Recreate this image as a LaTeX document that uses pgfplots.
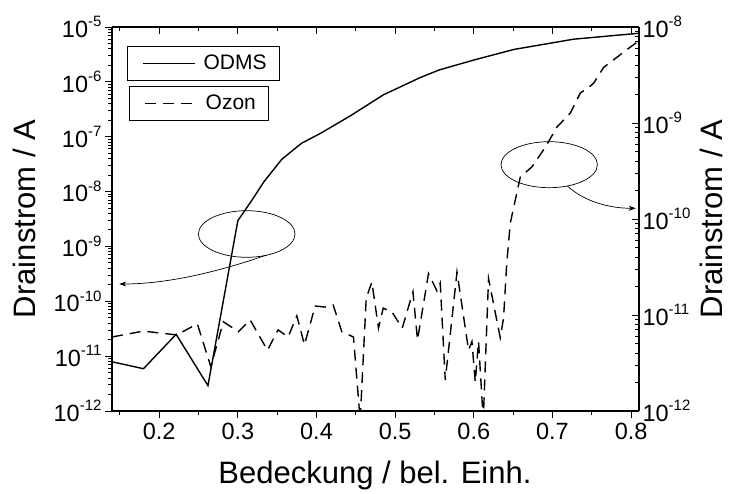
\documentclass[border=0pt]{standalone}
\usepackage{fontspec}
\setmainfont{Liberation Sans}
\usepackage{pgfplots}
\pgfplotsset{compat=1.18}
\usetikzlibrary{arrows.meta}
\newcommand{\sups}[1]{\raisebox{0.45em}{\fontsize{15}{15}\selectfont #1}}

\pgfplotsset{
  common/.style={
    width=527pt, height=384pt, scale only axis,
    at={(112pt,83pt)}, anchor=south west,
    xmin=0.14, xmax=0.81,
    xtick={0.2,0.3,0.4,0.5,0.6,0.7,0.8},
    minor xtick={0.15,0.25,0.35,0.45,0.55,0.65,0.75},
    major tick length=7pt, minor tick length=4pt,
    every tick/.style={black, line width=0.9pt},
    axis line style={line width=1.3pt},
    /pgf/number format/assume math mode=true,
    tick label style={font=\fontsize{23.5}{23.5}\selectfont},
    xticklabel style={yshift=-2pt},
    label style={font=\fontsize{31}{31}\selectfont},
    legend style={draw=black, line width=0.8pt, fill=white,
      font=\fontsize{21}{24}\selectfont, inner xsep=11pt, inner ysep=7pt,
      legend cell align=left},
    legend image code/.code={\path (-4pt,0pt) (58pt,0pt); \draw[#1] (0pt,0pt) -- (52pt,0pt);},
  }
}

\begin{document}
\begin{tikzpicture}
\path[use as bounding box] (0,0) rectangle (730pt,494pt);

% left axis: ODMS
\begin{axis}[common,
  ymode=log, ymin=1e-12, ymax=1e-5,
  axis x line*=bottom, axis y line*=left,
  tick align=outside,
  xticklabels={0.2,0.3,0.4,0.5,0.6,0.7,0.8},
  ytick={1e-12,1e-11,1e-10,1e-9,1e-8,1e-7,1e-6,1e-5},
  yticklabels={10\sups{-12},10\sups{-11},10\sups{-10},10\sups{-9},10\sups{-8},10\sups{-7},10\sups{-6},10\sups{-5}},
  minor ytick={2e-12,3e-12,4e-12,5e-12,6e-12,7e-12,8e-12,9e-12,
    2e-11,3e-11,4e-11,5e-11,6e-11,7e-11,8e-11,9e-11,
    2e-10,3e-10,4e-10,5e-10,6e-10,7e-10,8e-10,9e-10,
    2e-9,3e-9,4e-9,5e-9,6e-9,7e-9,8e-9,9e-9,
    2e-8,3e-8,4e-8,5e-8,6e-8,7e-8,8e-8,9e-8,
    2e-7,3e-7,4e-7,5e-7,6e-7,7e-7,8e-7,9e-7,
    2e-6,3e-6,4e-6,5e-6,6e-6,7e-6,8e-6,9e-6},
  xlabel={Bedeckung / bel. Einh.},
  ylabel={Drainstrom / A},
  xlabel style={at={(axis description cs:0.499,-0.169)}, anchor=center},
  ylabel style={at={(axis description cs:-0.167,0.5)}, anchor=center},
  legend style={at={(axis description cs:0.028,0.951)}, anchor=north west},
]
\addplot[black, line width=1.4pt] coordinates {
(0.140,7.9e-12) (0.180,5.9e-12) (0.2215,2.5e-11) (0.262,2.9e-12)
(0.300,2.95e-9) (0.318,7e-9) (0.333,1.5e-8) (0.356,3.9e-8)
(0.381,7.6e-8) (0.405,1.15e-7) (0.443,2.4e-7) (0.485,5.8e-7)
(0.532,1.2e-6) (0.556,1.65e-6) (0.600,2.5e-6) (0.651,3.9e-6)
(0.727,6e-6) (0.810,7.7e-6)
};
\addlegendentry{ODMS}
\end{axis}

% right axis: Ozon
\begin{axis}[common,
  ymode=log, ymin=1e-12, ymax=1e-8,
  axis x line*=top, axis y line*=right,
  tick align=inside,
  xticklabels={},
  ytick={1e-12,1e-11,1e-10,1e-9,1e-8},
  yticklabels={10\sups{-12},10\sups{-11},10\sups{-10},10\sups{-9},10\sups{-8}},
  minor ytick={2e-12,3e-12,4e-12,5e-12,6e-12,7e-12,8e-12,9e-12,
    2e-11,3e-11,4e-11,5e-11,6e-11,7e-11,8e-11,9e-11,
    2e-10,3e-10,4e-10,5e-10,6e-10,7e-10,8e-10,9e-10,
    2e-9,3e-9,4e-9,5e-9,6e-9,7e-9,8e-9,9e-9},
  ylabel={Drainstrom / A},
  ylabel style={at={(axis description cs:1.137,0.5)}, anchor=center, rotate=0},
  legend style={at={(axis description cs:0.032,0.847)}, anchor=north west},
]
\addplot[black, line width=1.4pt, dash pattern=on 11pt off 7pt] coordinates {
(0.140,5.9e-12) (0.1798,6.8e-12) (0.2223,6.2e-12) (0.2485,8.1e-12)
(0.2656,2.9e-12) (0.2816,8.5e-12) (0.3007,6.7e-12) (0.3156,8.9e-12)
(0.3376,4.3e-12) (0.3512,7.0e-12) (0.3639,5.9e-12) (0.3750,9.8e-12)
(0.3847,4.9e-12) (0.3983,1.24e-11) (0.4110,1.21e-11) (0.4212,1.27e-11)
(0.4322,6.7e-12) (0.4470,5.9e-12) (0.4555,8e-13) (0.4632,1.5e-11)
(0.4704,2.2e-11) (0.4788,7.3e-12) (0.4848,1.18e-11) (0.4962,1.07e-11)
(0.5090,7.3e-12) (0.5226,1.75e-11) (0.5284,5.5e-12) (0.5424,2.7e-11)
(0.5531,1.78e-11) (0.5573,2.15e-11) (0.5637,2.1e-12) (0.5786,2.8e-11)
(0.5933,4.3e-12) (0.5976,5.3e-12) (0.6018,2.0e-12) (0.6060,5.3e-12)
(0.6120,8e-13) (0.6187,2.4e-11) (0.6336,5.8e-12) (0.6378,9.3e-12)
(0.6419,3.5e-11) (0.6464,9.1e-11) (0.6591,2.74e-10) (0.6740,3.5e-10)
(0.6909,5.6e-10) (0.7058,9.1e-10) (0.7227,1.27e-9) (0.7354,2.05e-9)
(0.7482,2.43e-9) (0.7523,2.6e-9) (0.7651,3.8e-9) (0.7969,6.0e-9)
(0.8080,7.0e-9)
};
\addlegendentry{Ozon}
\end{axis}

% annotations
\draw[line width=0.7pt] (246.7pt,260pt) ellipse [x radius=48.3pt, y radius=23.3pt];
\draw[line width=0.7pt, -{Stealth[length=7pt,width=5pt]}] (266.7pt,239pt) .. controls (215pt,221pt) and (165pt,210pt) .. (119.3pt,210pt);
\draw[line width=0.7pt] (549.2pt,329.3pt) ellipse [x radius=48.2pt, y radius=23pt];
\draw[line width=0.7pt, -{Stealth[length=7pt,width=5pt]}] (567.3pt,308pt) .. controls (585pt,292pt) and (610pt,285.7pt) .. (635.7pt,285.7pt);
\end{tikzpicture}
\end{document}
